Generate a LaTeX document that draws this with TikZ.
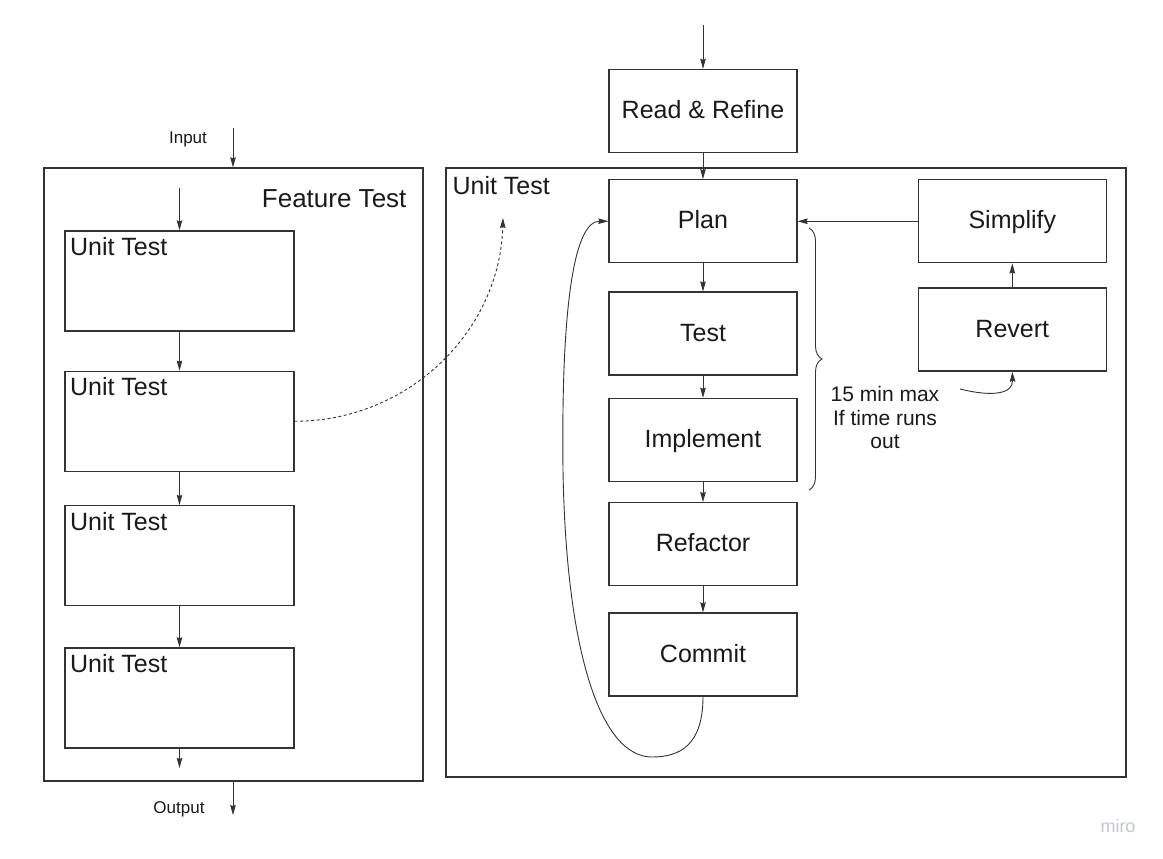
\documentclass[tikz,border=0pt]{standalone}
\usepackage{fontspec}
\setmainfont{Liberation Sans}
\usepackage{tikz}
\usetikzlibrary{shapes, arrows.meta, decorations.pathreplacing}
\usetikzlibrary{positioning}
\definecolor{linegray}{RGB}{51,51,51}
\definecolor{textgray}{RGB}{26,26,26}
\definecolor{mirogray}{RGB}{196,199,208}
\newcommand{\bigtext}{\fontsize{25}{30}\selectfont}
\newcommand{\notetext}{\fontsize{21}{23.3}\selectfont}
\newcommand{\smalltext}{\fontsize{17}{20}\selectfont}
\tikzset{
    stepbox/.style = {
        rectangle,
        minimum width=188pt,
        minimum height=83pt,
        inner sep=0pt,
        text height=18pt,
        text depth=3pt,
        font=\bigtext,
        text=textgray,
        line width=1.3pt,
        draw=linegray,
    },
    unitbox/.style = {
        rectangle,
        minimum width=229pt,
        minimum height=100pt,
        inner sep=0pt,
        line width=1.3pt,
        draw=linegray,
    },
    frame/.style = {
        rectangle,
        inner sep=0pt,
        line width=1.3pt,
        draw=linegray,
    },
    title/.style = {
        font=\bigtext,
        text=textgray,
        text height=18pt,
        text depth=0pt,
    },
    utlabel/.style = {
        title,
        anchor=north west,
        inner xsep=5.5pt,
        inner ysep=7pt,
    },
    smalltitle/.style = {
        font=\smalltext,
        text=textgray,
        text height=12.2pt,
        text depth=0pt,
    },
    note/.style = {
        font=\notetext,
        text=textgray,
        align=center,
    },
}
\tikzstyle{arrow} = [line width=0.9pt, draw=linegray, -{Stealth[length=10pt, width=5.5pt, inset=1pt]}]
\tikzstyle{dasharrow} = [arrow, dash pattern=on 3pt off 2.5pt]
\tikzstyle{brace} = [line width=0.9pt, draw=linegray, decorate, decoration={brace, amplitude=13pt}]

\begin{document}
\begin{tikzpicture}[x=1pt, y=1pt]
        \fill[white] (0,0) rectangle (1163,-859);
        \useasboundingbox (0,0) rectangle (1163,-859);

        \node(feat) [frame, minimum width=379pt, minimum height=613pt,
            label={[title, font=\fontsize{26}{30}\selectfont, anchor=north east, inner xsep=17pt, inner ysep=21.5pt]north east:Feature Test}]
            at (233.5,-474.5) {};
        \node(unit) [frame, minimum width=680pt, minimum height=609pt,
            label={[title, anchor=north west, inner xsep=7pt, inner ysep=9pt]north west:Unit Test}]
            at (786,-472.5) {};

        \node(input) [smalltitle] at (188,-137)
        {Input};
        \node(output) [smalltitle] at (179,-807)
        {Output};

        \node(ut1) [unitbox, label={[utlabel]north west:Unit Test}] at (179.5,-281) {};
        \node(ut2) [unitbox, label={[utlabel]north west:Unit Test}, below = 39pt of ut1] {};
        \node(ut3) [unitbox, label={[utlabel]north west:Unit Test}, below = 33pt of ut2] {};
        \node(ut4) [unitbox, label={[utlabel]north west:Unit Test}, below = 41pt of ut3] {};

        \node(read) [stepbox] at (703,-111)
        {Read \& Refine};
        \node(plan) [stepbox, below = 26pt of read]
        {Plan};
        \node(test) [stepbox, below = 28pt of plan]
        {Test};
        \node(impl) [stepbox, below = 22pt of test]
        {Implement};
        \node(refac) [stepbox, below = 20pt of impl]
        {Refactor};
        \node(commit) [stepbox, below = 26pt of refac]
        {Commit};
        \node(simplify) [stepbox, right = 120pt of plan]
        {Simplify};
        \node(revert) [stepbox, below = 24pt of simplify]
        {Revert};

        \node(note) [note] at (885,-417.5)
        {15 min max\\If time runs\\out};
        \node(miro) [font=\fontsize{18}{20}\selectfont, text=mirogray, text height=13pt, text depth=0pt]
            at (1118,-825.5) {miro};

        \coordinate (inTop) at (233,-128);
        \coordinate (outEnd) at (233,-815);
        \coordinate (featIn) at (179.5,-188);
        \coordinate (ut4End) at (179.5,-768);
        \coordinate (readIn) at (703,-25);
        \coordinate (dashEnd) at (503,-218);
        \coordinate (braceTop) at (809,-228);
        \coordinate (braceBot) at (809,-490);
        \coordinate (noteEnd) at (960,-389);

        \draw [arrow] (inTop) -- (inTop |- feat.north);
        \draw [arrow] (featIn) -- (ut1);
        \draw [arrow] (ut1) -- (ut2);
        \draw [arrow] (ut2) -- (ut3);
        \draw [arrow] (ut3) -- (ut4);
        \draw [arrow] (ut4) -- (ut4End);
        \draw [arrow] (outEnd |- feat.south) -- (outEnd);
        \draw [dasharrow] (ut2.east) .. controls (410,-421) and (500,-330) .. (dashEnd);

        \draw [arrow] (readIn) -- (read);
        \draw [arrow] (read) -- (plan);
        \draw [arrow] (plan) -- (test);
        \draw [arrow] (test) -- (impl);
        \draw [arrow] (impl) -- (refac);
        \draw [arrow] (refac) -- (commit);
        \draw [arrow] (simplify) -- (plan);
        \draw [arrow] (revert) -- (simplify);
        \draw [arrow] (noteEnd) .. controls (992,-397) and (1013,-394) .. (revert.south);
        \draw [arrow] (commit.south) .. controls (703,-745) and (680,-757) .. (652,-757)
            .. controls (600,-757) and (566,-650) .. (563,-470)
            .. controls (561,-300) and (575,-221) .. (plan.west);
        \draw [brace] (braceTop) -- (braceBot);

    \end{tikzpicture}
\end{document}
